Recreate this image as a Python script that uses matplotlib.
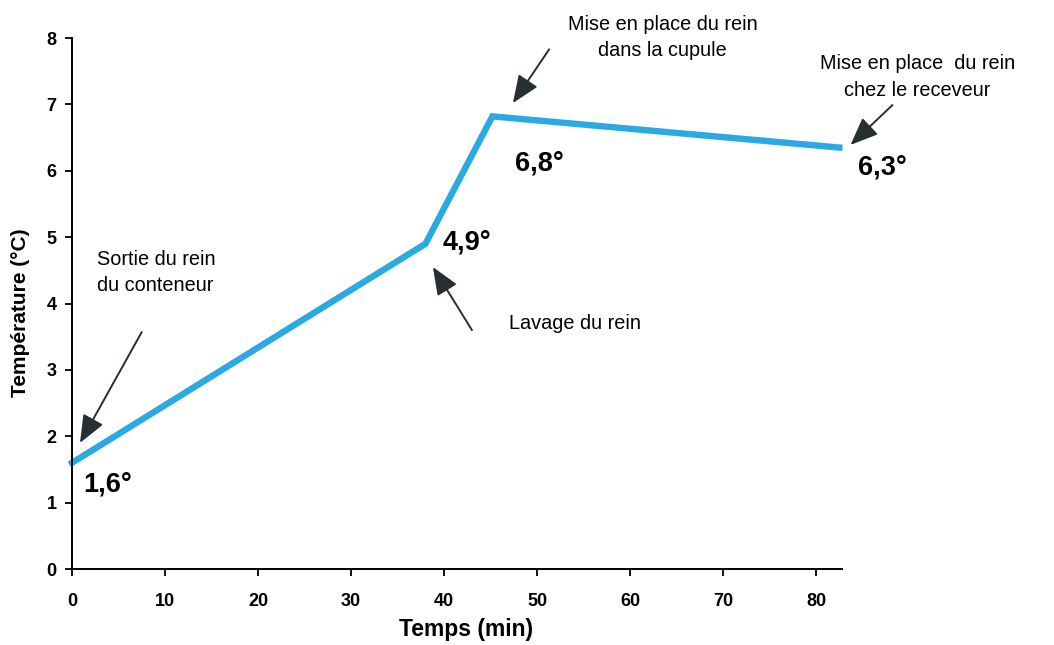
import matplotlib
matplotlib.use("Agg")
import matplotlib.pyplot as plt

plt.rcParams['font.family'] = ['Liberation Sans', 'DejaVu Sans']

# données
temps = [0, 38, 45.2, 82.5]
temperature = [1.6, 4.9, 6.82, 6.35]

valeurs = ["1,6°", "4,9°", "6,8°", "6,3°"]
valeurs_pos = [(1.2, 1.27), (39.9, 4.92), (47.6, 6.11), (84.5, 6.05)]

etapes = ["Sortie du rein\ndu conteneur",
          "Lavage du rein",
          "Mise en place du rein\ndans la cupule",
          "Mise en place  du rein\nchez le receveur"]
etapes_pos = [(2.7, 4.47), (47.0, 3.70), (63.5, 8.01), (90.9, 7.41)]
etapes_ha = ['left', 'left', 'center', 'center']
fleches_queue = [(7.5, 3.57), (43.0, 3.6), (51.3, 7.83), (88.2, 6.99)]
fleches_tete = [(0.86, 1.90), (38.8, 4.55), (47.4, 7.02), (83.7, 6.39)]

fig = plt.figure(figsize=(10.54, 6.45), dpi=100)
ax = fig.add_axes([0.0683, 0.1178, 0.799 - 0.0683, 0.941 - 0.1178])

ax.plot(temps, temperature, color='#2aa9e2', lw=4.6, solid_joinstyle='miter', clip_on=False)

ax.set_xlim(0, 82.8)
ax.set_ylim(0, 8)
ax.set_xticks(range(0, 90, 10))
ax.set_yticks(range(0, 9))
for s in ['top', 'right']:
    ax.spines[s].set_visible(False)
for s in ['left', 'bottom']:
    ax.spines[s].set_linewidth(1.4)
ax.tick_params(direction='out', length=5, width=1.3, labelsize=13)
ax.tick_params(axis='x', pad=12)
ax.tick_params(axis='y', pad=6)
for lab in ax.get_xticklabels() + ax.get_yticklabels():
    lab.set_fontweight('bold')

ax.set_xlabel("Temps (min)", fontsize=16.5, fontweight='bold')
ax.set_ylabel("Température (°C)", fontsize=15, fontweight='bold')
ax.xaxis.set_label_coords(0.512, -0.092)
ax.yaxis.set_label_coords(-0.054, 0.482)

for txt, (x, y) in zip(valeurs, valeurs_pos):
    ax.text(x, y, txt, fontsize=19.5, fontweight='bold', ha='left', va='center', clip_on=False)

for txt, (x, y), ha in zip(etapes, etapes_pos, etapes_ha):
    ax.text(x, y, txt, fontsize=14.3, ha=ha, va='center', linespacing=1.5, clip_on=False)

for queue, tete in zip(fleches_queue, fleches_tete):
    ax.annotate("", xy=tete, xytext=queue, annotation_clip=False,
                arrowprops=dict(arrowstyle='-|>,head_length=0.85,head_width=0.35',
                                color='#263030', lw=1.4, mutation_scale=20,
                                shrinkA=0, shrinkB=0))

fig.savefig("out.png", dpi=100)
